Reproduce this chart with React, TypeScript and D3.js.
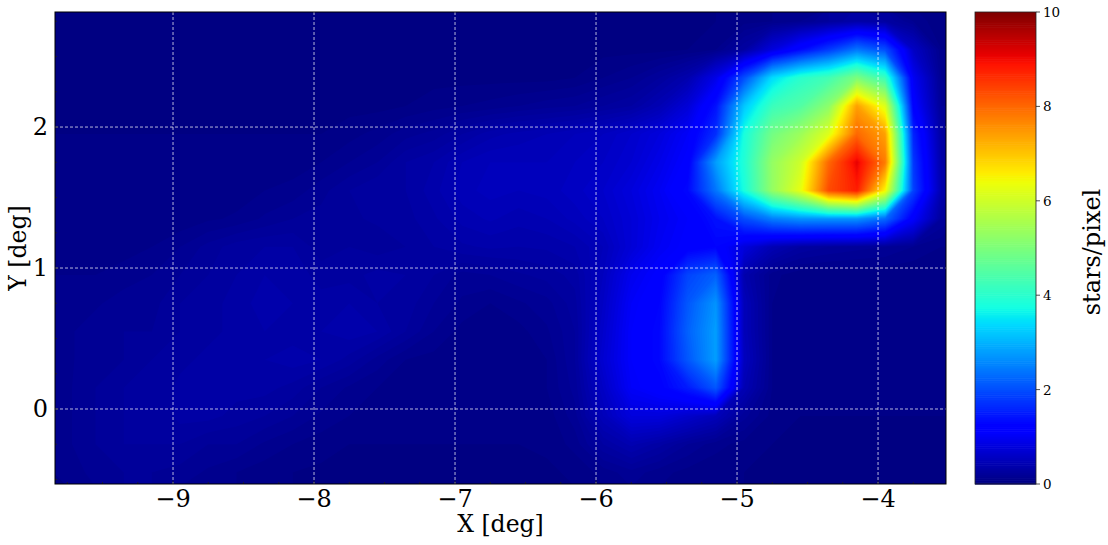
import React from 'react';
import * as d3 from 'd3';

// cell centres of the density map (deg)
const xCenters = [-9.75, -9.55, -9.35, -9.15, -8.95, -8.75, -8.55, -8.35, -8.15, -7.95, -7.75, -7.55, -7.35, -7.15, -6.95, -6.75,
  -6.55, -6.35, -6.15, -5.95, -5.75, -5.55, -5.35, -5.15, -4.95, -4.75, -4.55, -4.35, -4.15, -3.95, -3.75, -3.55];
const yCenters = [2.75, 2.55, 2.35, 2.15, 1.95, 1.75, 1.55, 1.35, 1.15, 0.95, 0.75, 0.55, 0.35, 0.15, -0.05, -0.25, -0.45];

// stars/pixel, one row per yCenters entry (top to bottom)
const density = [
  [0.03, 0.03, 0.03, 0.03, 0.03, 0.03, 0.03, 0.03, 0.03, 0.03, 0.03, 0.03, 0.03, 0.03, 0.03, 0.03, 0.03, 0.03, 0.03, 0.03, 0.03, 0.03, 0.03, 0.05, 0.08, 0.1, 0.15, 0.25, 0.35, 0.3, 0.15, 0.05],
  [0.03, 0.03, 0.03, 0.03, 0.03, 0.03, 0.03, 0.03, 0.03, 0.03, 0.03, 0.03, 0.03, 0.03, 0.03, 0.03, 0.03, 0.03, 0.03, 0.03, 0.03, 0.03, 0.05, 0.1, 0.3, 0.8, 1.3, 1.8, 2.4, 2.0, 0.6, 0.1],
  [0.03, 0.03, 0.03, 0.03, 0.03, 0.03, 0.03, 0.03, 0.03, 0.03, 0.03, 0.03, 0.03, 0.03, 0.03, 0.03, 0.03, 0.03, 0.05, 0.1, 0.15, 0.25, 0.4, 0.9, 2.0, 3.4, 4.0, 4.3, 5.0, 4.2, 1.0, 0.15],
  [0.03, 0.03, 0.03, 0.03, 0.03, 0.03, 0.03, 0.03, 0.03, 0.03, 0.03, 0.03, 0.05, 0.08, 0.1, 0.12, 0.15, 0.18, 0.2, 0.25, 0.3, 0.45, 0.75, 1.4, 3.2, 4.2, 4.5, 5.2, 7.4, 6.2, 1.2, 0.2],
  [0.05, 0.05, 0.05, 0.05, 0.05, 0.05, 0.05, 0.05, 0.05, 0.05, 0.08, 0.12, 0.18, 0.22, 0.3, 0.38, 0.42, 0.45, 0.5, 0.55, 0.65, 0.8, 1.05, 1.7, 3.8, 4.9, 5.4, 6.2, 8.0, 7.4, 1.6, 0.3],
  [0.05, 0.05, 0.05, 0.05, 0.05, 0.05, 0.05, 0.05, 0.07, 0.1, 0.15, 0.2, 0.3, 0.35, 0.45, 0.5, 0.5, 0.5, 0.55, 0.6, 0.7, 0.9, 1.15, 2.8, 3.9, 5.3, 6.0, 8.0, 9.1, 7.8, 1.8, 0.35],
  [0.05, 0.05, 0.05, 0.05, 0.05, 0.05, 0.07, 0.1, 0.12, 0.18, 0.25, 0.3, 0.3, 0.38, 0.48, 0.52, 0.5, 0.52, 0.58, 0.65, 0.8, 1.0, 1.3, 2.4, 3.8, 5.3, 6.3, 8.3, 8.8, 6.5, 1.9, 0.4],
  [0.05, 0.05, 0.05, 0.05, 0.06, 0.09, 0.11, 0.16, 0.2, 0.22, 0.24, 0.26, 0.28, 0.34, 0.42, 0.46, 0.42, 0.45, 0.52, 0.6, 0.75, 0.95, 1.1, 1.4, 2.0, 2.5, 2.7, 2.7, 2.7, 2.3, 1.1, 0.25],
  [0.08, 0.08, 0.08, 0.1, 0.15, 0.22, 0.28, 0.3, 0.3, 0.22, 0.25, 0.22, 0.25, 0.3, 0.34, 0.36, 0.35, 0.36, 0.4, 0.5, 0.75, 1.0, 1.15, 1.25, 0.8, 0.45, 0.3, 0.25, 0.22, 0.2, 0.15, 0.1],
  [0.1, 0.1, 0.12, 0.15, 0.2, 0.25, 0.3, 0.35, 0.33, 0.28, 0.28, 0.32, 0.3, 0.25, 0.18, 0.2, 0.24, 0.27, 0.32, 0.55, 0.95, 1.15, 1.9, 2.2, 0.4, 0.12, 0.06, 0.06, 0.06, 0.06, 0.05, 0.05],
  [0.1, 0.14, 0.18, 0.18, 0.25, 0.28, 0.32, 0.38, 0.35, 0.32, 0.35, 0.3, 0.28, 0.2, 0.14, 0.1, 0.14, 0.18, 0.28, 0.6, 1.05, 1.25, 2.1, 2.7, 0.5, 0.1, 0.05, 0.05, 0.05, 0.05, 0.05, 0.05],
  [0.14, 0.18, 0.2, 0.2, 0.25, 0.28, 0.32, 0.35, 0.32, 0.35, 0.38, 0.35, 0.25, 0.15, 0.08, 0.07, 0.08, 0.14, 0.25, 0.65, 1.1, 1.3, 2.2, 2.8, 0.5, 0.1, 0.05, 0.05, 0.05, 0.05, 0.05, 0.05],
  [0.14, 0.18, 0.2, 0.25, 0.28, 0.32, 0.32, 0.35, 0.38, 0.35, 0.28, 0.18, 0.1, 0.08, 0.07, 0.07, 0.07, 0.1, 0.25, 0.7, 1.1, 1.3, 2.1, 2.8, 0.55, 0.1, 0.05, 0.05, 0.05, 0.05, 0.05, 0.05],
  [0.14, 0.2, 0.25, 0.25, 0.32, 0.35, 0.32, 0.32, 0.28, 0.2, 0.14, 0.1, 0.07, 0.07, 0.06, 0.06, 0.07, 0.1, 0.22, 0.6, 1.05, 1.2, 1.5, 2.1, 0.45, 0.1, 0.05, 0.05, 0.05, 0.05, 0.05, 0.05],
  [0.14, 0.2, 0.25, 0.25, 0.32, 0.32, 0.28, 0.25, 0.2, 0.14, 0.1, 0.07, 0.06, 0.06, 0.06, 0.06, 0.06, 0.07, 0.18, 0.5, 0.8, 0.8, 0.65, 0.5, 0.22, 0.08, 0.05, 0.05, 0.05, 0.05, 0.05, 0.05],
  [0.14, 0.2, 0.25, 0.25, 0.25, 0.2, 0.2, 0.14, 0.1, 0.07, 0.05, 0.05, 0.05, 0.05, 0.05, 0.05, 0.05, 0.06, 0.12, 0.3, 0.42, 0.32, 0.2, 0.12, 0.08, 0.05, 0.04, 0.04, 0.04, 0.04, 0.04, 0.04],
  [0.1, 0.18, 0.2, 0.2, 0.18, 0.14, 0.1, 0.07, 0.05, 0.04, 0.04, 0.04, 0.04, 0.04, 0.04, 0.04, 0.04, 0.04, 0.06, 0.12, 0.18, 0.12, 0.08, 0.06, 0.05, 0.04, 0.04, 0.04, 0.04, 0.04, 0.04, 0.04],
];

const xTicks = [-9, -8, -7, -6, -5, -4];
const yTicks = [0, 1, 2];
const cbarTicks = [0, 2, 4, 6, 8, 10];

const W = 1108;
const H = 545;
const plot = { left: 55, right: 946, top: 12, bottom: 484 };
const cbar = { left: 975, right: 1036 };
const font = "'DejaVu Serif', serif";

// matplotlib jet
const jetR = d3.scaleLinear().domain([0, 0.35, 0.66, 0.89, 1]).range([0, 0, 1, 1, 0.5]).clamp(true);
const jetG = d3.scaleLinear().domain([0, 0.125, 0.375, 0.64, 0.91, 1]).range([0, 0, 1, 1, 0, 0]).clamp(true);
const jetB = d3.scaleLinear().domain([0, 0.11, 0.34, 0.65, 1]).range([0.5, 1, 1, 0, 0]).clamp(true);
const jet = (v: number) => {
  const t = v / 10;
  return d3.rgb(jetR(t) * 255, jetG(t) * 255, jetB(t) * 255).formatHex();
};

const minus = (v: number) => (v < 0 ? '\u2212' + Math.abs(v) : String(v));

export default function App() {
  const x = d3.scaleLinear().domain([-9.837, -3.518]).range([plot.left, plot.right]);
  const y = d3.scaleLinear().domain([-0.532, 2.816]).range([plot.bottom, plot.top]);
  const c = d3.scaleLinear().domain([0, 10]).range([plot.bottom, plot.top]);

  const nx = xCenters.length;
  const ny = yCenters.length;
  const dx = xCenters[1] - xCenters[0];
  const dy = yCenters[0] - yCenters[1];
  const step = 0.05;
  const levels = d3.range(0, 10, step);
  const contours = d3.contours().size([nx, ny]).thresholds(levels)(density.flat());
  const proj = d3.geoTransform({
    point(gx: number, gy: number) {
      this.stream.point(x(xCenters[0] - dx / 2 + gx * dx), y(yCenters[0] + dy / 2 - gy * dy));
    },
  });
  const path = d3.geoPath(proj);

  const minorX = d3.range(-9.75, -3.5, 0.25).filter((v) => Math.abs(v - Math.round(v)) > 1e-6);
  const minorY = d3.range(-0.5, 2.8, 0.25).filter((v) => Math.abs(v - Math.round(v)) > 1e-6);
  const cbarSteps = d3.range(0, 10, 0.04);

  return (
    <svg width={W} height={H} style={{ display: 'block' }} fontFamily={font}>
      <style>{`body{margin:0}`}</style>
      <defs>
        <clipPath id="plotClip">
          <rect x={plot.left} y={plot.top} width={plot.right - plot.left} height={plot.bottom - plot.top} />
        </clipPath>
      </defs>
      <rect width={W} height={H} fill="#fff" />

      <g clipPath="url(#plotClip)">
        <rect x={plot.left} y={plot.top} width={plot.right - plot.left} height={plot.bottom - plot.top} fill={jet(0.02)} />
        {contours.map((ct, i) => (
          <path key={i} d={path(ct as any) || ''} fill={jet(ct.value + step / 2)} stroke="none" />
        ))}
      </g>

      {/* grid */}
      <g stroke="#fff" strokeWidth={0.8} strokeDasharray="3,2" opacity={0.9}>
        {xTicks.map((t) => (
          <line key={'gx' + t} x1={x(t)} x2={x(t)} y1={plot.top} y2={plot.bottom} />
        ))}
        {yTicks.map((t) => (
          <line key={'gy' + t} x1={plot.left} x2={plot.right} y1={y(t)} y2={y(t)} />
        ))}
      </g>

      {/* ticks, pointing in */}
      <g stroke="#222" strokeWidth={0.8}>
        {xTicks.map((t) => (
          <line key={'tx' + t} x1={x(t)} x2={x(t)} y1={plot.bottom} y2={plot.bottom - 3.5} />
        ))}
        {minorX.map((t) => (
          <line key={'mx' + t} x1={x(t)} x2={x(t)} y1={plot.bottom} y2={plot.bottom - 2} />
        ))}
        {yTicks.map((t) => (
          <line key={'ty' + t} x1={plot.left} x2={plot.left + 3.5} y1={y(t)} y2={y(t)} />
        ))}
        {minorY.map((t) => (
          <line key={'my' + t} x1={plot.left} x2={plot.left + 2} y1={y(t)} y2={y(t)} />
        ))}
      </g>
      <rect x={plot.left} y={plot.top} width={plot.right - plot.left} height={plot.bottom - plot.top}
        fill="none" stroke="#000" strokeWidth={1} />

      {/* tick labels */}
      <g fontSize={24} fill="#000">
        {xTicks.map((t) => (
          <text key={'lx' + t} x={x(t)} y={507} textAnchor="middle">{minus(t)}</text>
        ))}
        {yTicks.map((t) => (
          <text key={'ly' + t} x={48} y={y(t)} textAnchor="end" dominantBaseline="central">{minus(t)}</text>
        ))}
      </g>
      <text x={(plot.left + plot.right) / 2} y={532} textAnchor="middle" fontSize={23.5}>X [deg]</text>
      <text transform={`translate(26,${(plot.top + plot.bottom) / 2}) rotate(-90)`} textAnchor="middle" fontSize={23.5}>Y [deg]</text>

      {/* colorbar */}
      <g>
        {cbarSteps.map((v) => (
          <rect key={'cb' + v} x={cbar.left} width={cbar.right - cbar.left} y={c(v + 0.04)} height={c(v) - c(v + 0.04) + 0.6}
            fill={jet(v + 0.02)} />
        ))}
        <rect x={cbar.left} y={plot.top} width={cbar.right - cbar.left} height={plot.bottom - plot.top}
          fill="none" stroke="#222" strokeWidth={0.8} />
        {cbarTicks.map((t) => (
          <g key={'ct' + t}>
            <line x1={cbar.right} x2={cbar.right + 4} y1={c(t)} y2={c(t)} stroke="#222" strokeWidth={0.8} />
            <text x={1043} y={c(t)} dominantBaseline="central" fontSize={13.5}>{t}</text>
          </g>
        ))}
        <text transform={`translate(1100,${(plot.top + plot.bottom) / 2 + 4}) rotate(-90)`} textAnchor="middle" fontSize={24}>stars/pixel</text>
      </g>
    </svg>
  );
}
